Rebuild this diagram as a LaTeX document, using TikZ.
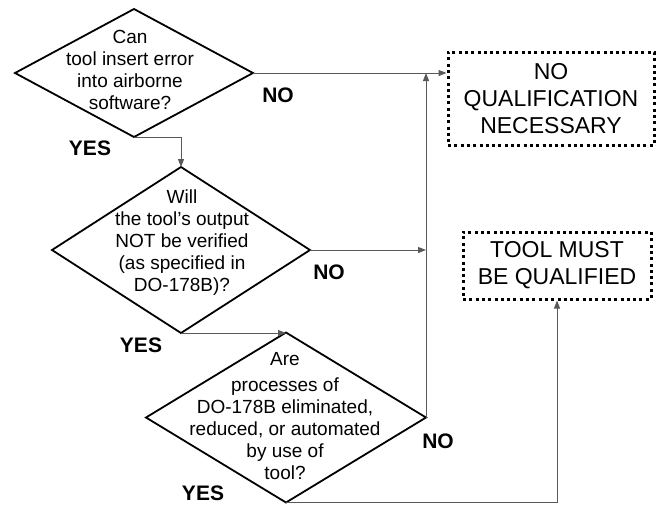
\documentclass[tikz,border=0pt]{standalone}
\usepackage{fontspec}
\setmainfont{Liberation Sans}
\usetikzlibrary{shapes.geometric,arrows.meta,calc}
\begin{document}
\begin{tikzpicture}[x=1pt,y=-1pt,
  dia/.style={draw=black,line width=1.8pt,shape=diamond,inner sep=0pt,outer sep=0pt},
  dtxt/.style={align=center,inner sep=0pt,font=\fontsize{19}{22}\selectfont},
  endbox/.style={draw=black,line width=3pt,dash pattern=on 3pt off 3.3pt,
    align=center,inner sep=0pt,font=\fontsize{23}{27}\selectfont},
  lab/.style={inner sep=0pt,font=\fontsize{21}{24}\selectfont\bfseries},
  conn/.style={draw=black!65,line width=1pt,-{Triangle[length=8pt,width=6pt]}},
  plain/.style={draw=black!65,line width=1pt}]
\useasboundingbox (0,0) rectangle (660,504);
% decisions
\node[dia,minimum width=238pt,minimum height=128pt] (d1) at (134,73) {};
\node[dtxt] (t1) at (130,70) {Can\\tool insert error\\into airborne\\software?};
\node[dia,minimum width=258pt,minimum height=166pt] (d2) at (181,250) {};
\node[dtxt] (t2) at (182,243) {Will\\the tool's output\\NOT be verified\\(as specified in\\DO-178B)?};
\node[dia,minimum width=280pt,minimum height=170pt] (d3) at (286,417.5) {};
\node[dtxt] (t3) at (285,416) {Are\\[4pt]processes of\\DO-178B eliminated,\\reduced, or automated\\by use of\\tool?};
% outcomes
\node[endbox,minimum width=206pt,minimum height=93pt] (b1) at (551,98.5) {NO\\QUALIFICATION\\NECESSARY};
\node[endbox,minimum width=188pt,minimum height=67pt] (b2) at (557,265.5) {TOOL MUST\\BE QUALIFIED};
% labels
\node[lab] (no1) at (278,95) {NO};
\node[lab] (yes1) at (90,148) {YES};
\node[lab] (no2) at (329,272) {NO};
\node[lab] (yes2) at (141,345) {YES};
\node[lab] (no3) at (438,441) {NO};
\node[lab] (yes3) at (203,493) {YES};
% connectors
\coordinate (j1) at (d1.east -| d3.east);
\draw[conn] (d1.east) -- (d1.east -| b1.west);
\draw[conn] (d1.south) -| (d2.north);
\draw[conn] (d2.east) -- (d2.east -| d3.east);
\draw[conn] (d2.south) -- (d2.south -| d3.north);
\draw[conn] (d3.east) -- (j1);
\draw[conn] (d3.south) -| (b2.south);
\end{tikzpicture}
\end{document}
